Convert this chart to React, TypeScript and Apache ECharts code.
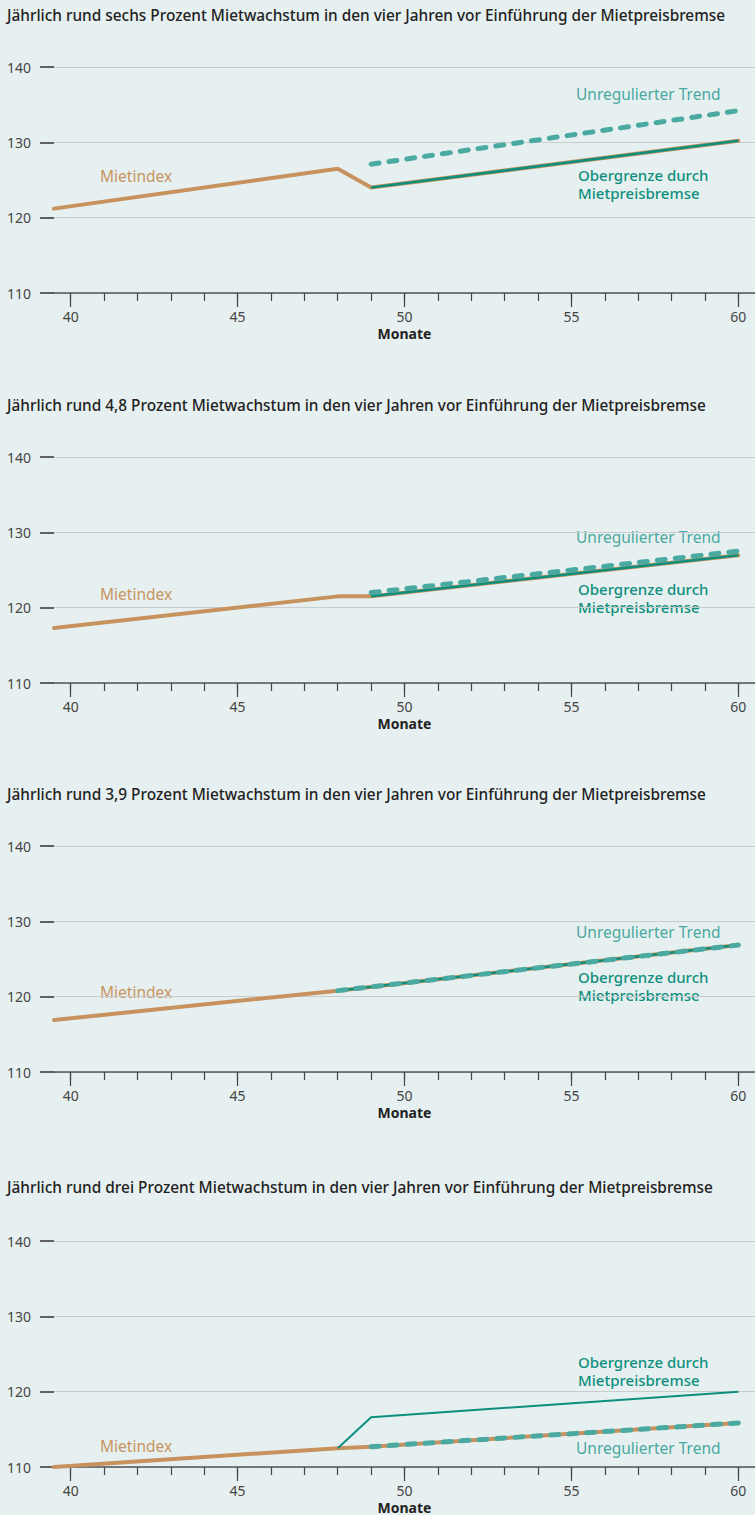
import React, { useEffect, useRef } from "react";
import * as echarts from "echarts";

const titles = [
  "Jährlich rund sechs Prozent Mietwachstum in den vier Jahren vor Einführung der Mietpreisbremse",
  "Jährlich rund 4,8 Prozent Mietwachstum in den vier Jahren vor Einführung der Mietpreisbremse",
  "Jährlich rund 3,9 Prozent Mietwachstum in den vier Jahren vor Einführung der Mietpreisbremse",
  "Jährlich rund drei Prozent Mietwachstum in den vier Jahren vor Einführung der Mietpreisbremse",
];

// [Monat, Index]
const mietindex1 = [[39.5, 121.2], [48, 126.5], [49, 124.0], [60, 130.2]];
const obergrenze1 = [[49, 124.0], [60, 130.2]];
const trend1 = [[49, 127.1], [60, 134.2]];

const mietindex2 = [[39.5, 117.3], [48, 121.5], [49, 121.5], [60, 126.95]];
const obergrenze2 = [[49, 121.5], [60, 126.95]];
const trend2 = [[49, 122.0], [60, 127.5]];

const mietindex3 = [[39.5, 116.9], [48, 120.8], [60, 126.85]];
const obergrenze3 = [[48, 120.8], [60, 126.85]];
const trend3 = [[48, 120.8], [60, 126.85]];

const mietindex4 = [[39.5, 110.0], [48, 112.5], [49, 112.7], [60, 115.85]];
const obergrenze4 = [[48, 112.5], [49, 116.6], [60, 120.0]];
const trend4 = [[49, 112.7], [60, 115.85]];

const mietindexSets = [mietindex1, mietindex2, mietindex3, mietindex4];
const obergrenzeSets = [obergrenze1, obergrenze2, obergrenze3, obergrenze4];
const trendSets = [trend1, trend2, trend3, trend4];

const majorTicks = [40, 45, 50, 55, 60];
const minorTicks = [40, 41, 42, 43, 44, 45, 46, 47, 48, 49, 50, 51, 52, 53, 54, 55, 56, 57, 58, 59, 60];

// layout (pixels)
const gridTops = [67, 457, 846, 1241];
const gridHeight = 226;
const gridLeft = 54;
const titleYs = [17, 407, 796, 1189];
// label positions per panel
const mietLabelY = [177, 595, 993, 1447];
const trendLabelY = [95, 538, 933, 1449];
const oberLabelY = [176, 590, 978, 1363];

const C_MIET = "#c8925e";
const C_OBER = "#0e8f7e";
const C_TREND = "#4aa9a1";
const FONT = "'Noto Sans', sans-serif";

export default function App() {
  const ref = useRef<HTMLDivElement>(null);
  useEffect(() => {
    if (!ref.current) return;
    const chart = echarts.init(ref.current, undefined, { renderer: "svg" });
    const grid: any[] = [];
    const xAxis: any[] = [];
    const yAxis: any[] = [];
    const series: any[] = [];
    const graphic: any[] = [];
    for (let i = 0; i < 4; i++) {
      grid.push({ left: gridLeft, right: 0, top: gridTops[i], height: gridHeight });
      xAxis.push({
        type: "value",
        gridIndex: i,
        position: "bottom",
        min: 39.5,
        max: 60.5,
        axisLine: { show: true, lineStyle: { color: "#555", width: 1.5 } },
        axisTick: { show: true, customValues: majorTicks, length: 14, lineStyle: { color: "#444", width: 1.2 } },
        axisLabel: { show: true, customValues: majorTicks, margin: 16, fontSize: 14, color: "#444", fontFamily: FONT },
        splitLine: { show: false },
        name: "Monate",
        nameLocation: "middle",
        nameGap: 33,
        nameTextStyle: { fontSize: 14, fontWeight: "bold", color: "#222", fontFamily: FONT },
      });
      xAxis.push({
        type: "value",
        gridIndex: i,
        position: "bottom",
        min: 39.5,
        max: 60.5,
        axisLine: { show: false },
        axisTick: { show: true, customValues: minorTicks, length: 8, lineStyle: { color: "#444", width: 1.2 } },
        axisLabel: { show: false },
        splitLine: { show: false },
      });
      yAxis.push({
        type: "value",
        gridIndex: i,
        min: 110,
        max: 140,
        interval: 10,
        axisLine: { show: false },
        axisTick: { show: true, length: 14, lineStyle: { color: "#333", width: 1.5 } },
        axisLabel: { margin: 23, fontSize: 14, color: "#444", fontFamily: FONT },
        splitLine: { show: true, lineStyle: { color: "#c8cccc", width: 1 } },
      });
      series.push({
        type: "line",
        xAxisIndex: 2 * i,
        yAxisIndex: i,
        data: mietindexSets[i],
        symbol: "none",
        lineStyle: { color: C_MIET, width: 4, cap: "round", join: "round" },
        z: 2,
      });
      series.push({
        type: "line",
        xAxisIndex: 2 * i,
        yAxisIndex: i,
        data: obergrenzeSets[i],
        symbol: "none",
        lineStyle: { color: C_OBER, width: i === 3 ? 2 : 2.5, join: "round" },
        z: 3,
      });
      series.push({
        type: "line",
        xAxisIndex: 2 * i,
        yAxisIndex: i,
        data: trendSets[i],
        symbol: "none",
        lineStyle: { color: C_TREND, width: 5, type: [8, 10], cap: "round" },
        z: 4,
      });
      graphic.push({
        type: "text",
        left: 7,
        top: titleYs[i] - 9,
        style: { text: titles[i], font: `500 15.4px ${FONT}`, fill: "#222" },
      });
      graphic.push({
        type: "text",
        left: 100,
        top: mietLabelY[i] - 9,
        style: { text: "Mietindex", font: `15.5px ${FONT}`, fill: "#c8955f" },
      });
      graphic.push({
        type: "text",
        left: 576,
        top: trendLabelY[i] - 9,
        style: { text: "Unregulierter Trend", font: `15.5px ${FONT}`, fill: C_TREND },
      });
      graphic.push({
        type: "text",
        left: 578,
        top: oberLabelY[i] - 9,
        style: { text: "Obergrenze durch", font: `500 15px ${FONT}`, fill: C_OBER },
      });
      graphic.push({
        type: "text",
        left: 578,
        top: oberLabelY[i] + 9,
        style: { text: "Mietpreisbremse", font: `500 15px ${FONT}`, fill: C_OBER },
      });
    }
    chart.setOption({
      animation: false,
      backgroundColor: "#e7f0f0",
      grid,
      xAxis,
      yAxis,
      series,
      graphic,
    });
    return () => chart.dispose();
  }, []);
  return (
    <div
      ref={ref}
      style={{ position: "absolute", left: 0, top: 0, width: 755, height: 1515 }}
    />
  );
}
